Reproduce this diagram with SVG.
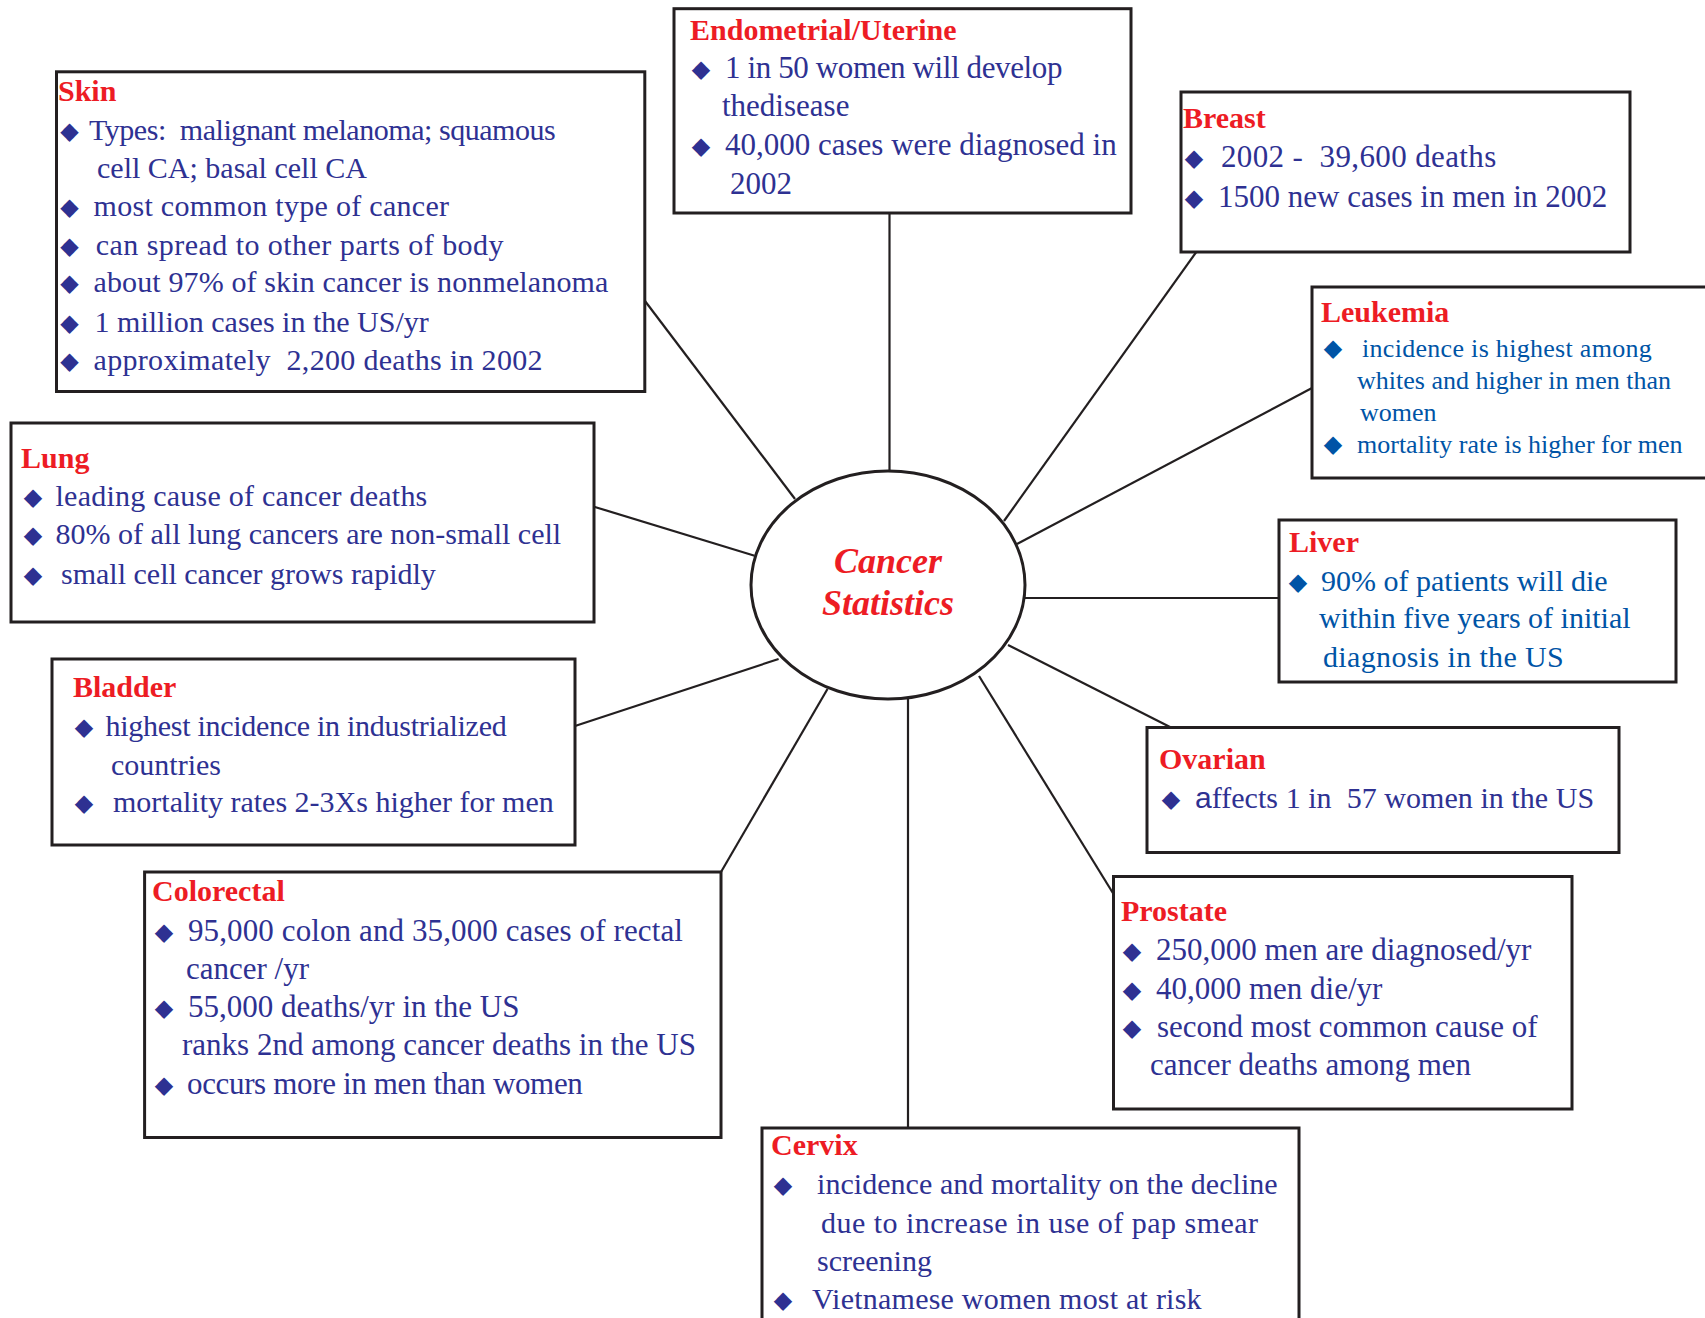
<svg xmlns="http://www.w3.org/2000/svg" width="1705" height="1318" viewBox="0 0 1705 1318">
<style>
.box{fill:#fff;stroke:#231f20;stroke-width:3}
.t{font-family:"Liberation Serif","Times New Roman",serif;font-weight:bold;fill:#ed1c24;font-size:30px}
.b{font-family:"Liberation Serif","Times New Roman",serif;fill:#2e3192;font-size:30px;white-space:pre}
.b31{font-size:31px}
.lb{fill:#0054a6}
.sm{font-size:26px}
.d{font-family:"DejaVu Sans",sans-serif;font-size:24px;text-anchor:middle}
.conn line{stroke:#231f20;stroke-width:2.2}
.hub{fill:#fff;stroke:#231f20;stroke-width:3}
.ct{font-family:"Liberation Serif","Times New Roman",serif;font-weight:bold;font-style:italic;fill:#ed1c24;font-size:36px;text-anchor:middle}
</style>
<rect width="1705" height="1318" fill="#fff"/>
<g id="connectors" class="conn">
<line x1="889.5" y1="213" x2="889.5" y2="470"/>
<line x1="645" y1="301" x2="795" y2="499"/>
<line x1="1197" y1="251" x2="1004" y2="521"/>
<line x1="1312" y1="388" x2="1017" y2="544"/>
<line x1="1023" y1="598" x2="1279" y2="598"/>
<line x1="1008" y1="645" x2="1171" y2="727.5"/>
<line x1="979" y1="676" x2="1113.5" y2="894"/>
<line x1="908" y1="699" x2="908" y2="1128"/>
<line x1="827.5" y1="689" x2="721" y2="872"/>
<line x1="778.6" y1="659" x2="575" y2="726"/>
<line x1="754.6" y1="555.7" x2="594" y2="506.7"/>
</g>
<g id="hub">
<ellipse class="hub" cx="888" cy="585" rx="137" ry="114"/>
<text class="ct" x="888" y="573">Cancer</text>
<text class="ct" x="888" y="615">Statistics</text>
</g>
<g id="skin">
<rect class="box" x="56.5" y="71.8" width="588.3" height="319.7"/>
<text class="t" x="58" y="101">Skin</text>
<g class="b">
<text class="d" x="69.5" y="139">◆</text><text xml:space="preserve" x="89" y="140" textLength="466.7">Types:  malignant melanoma; squamous</text>
<text x="97" y="178">cell CA; basal cell CA</text>
<text class="d" x="69.5" y="215">◆</text><text x="93.5" y="216" textLength="355.6">most common type of cancer</text>
<text class="d" x="69.5" y="254">◆</text><text x="95.7" y="255" textLength="407.8">can spread to other parts of body</text>
<text class="d" x="69.5" y="291">◆</text><text x="93.5" y="292" textLength="514.8">about 97% of skin cancer is nonmelanoma</text>
<text class="d" x="69.5" y="331">◆</text><text x="94.6" y="332">1 million cases in the US/yr</text>
<text class="d" x="69.5" y="369">◆</text><text xml:space="preserve" x="93.5" y="370" textLength="449">approximately  2,200 deaths in 2002</text>
</g>
</g>
<g id="endometrial">
<rect class="box" x="674" y="8.7" width="457" height="204.3"/>
<text class="t" x="690" y="40">Endometrial/Uterine</text>
<g class="b b31">
<text class="d" x="701" y="77">◆</text><text x="725" y="78" textLength="337.4">1 in 50 women will develop</text>
<text x="722" y="116">thedisease</text>
<text class="d" x="701" y="154">◆</text><text x="725" y="155">40,000 cases were diagnosed in</text>
<text x="730" y="194">2002</text>
</g>
</g>
<g id="breast">
<rect class="box" x="1181" y="92" width="449" height="160"/>
<text class="t" x="1183" y="128">Breast</text>
<g class="b b31">
<text class="d" x="1194" y="166">◆</text><text xml:space="preserve" x="1221" y="167" textLength="275.3">2002 -  39,600 deaths</text>
<text class="d" x="1194" y="206">◆</text><text x="1218" y="207">1500 new cases in men in 2002</text>
</g>
</g>
<g id="leukemia">
<rect class="box" x="1312" y="287" width="410" height="191"/>
<text class="t" x="1321" y="322">Leukemia</text>
<g class="b sm lb">
<text class="d" x="1333" y="356">◆</text><text x="1362" y="357" textLength="289.8">incidence is highest among</text>
<text x="1357" y="389">whites and higher in men than</text>
<text x="1360" y="421">women</text>
<text class="d" x="1333" y="452">◆</text><text x="1357" y="453">mortality rate is higher for men</text>
</g>
</g>
<g id="liver">
<rect class="box" x="1279" y="520" width="397" height="162"/>
<text class="t" x="1289" y="552">Liver</text>
<g class="b lb">
<text class="d" x="1298" y="590">◆</text><text x="1321" y="591">90% of patients will die</text>
<text x="1319" y="628">within five years of initial</text>
<text x="1323" y="667" textLength="240.7">diagnosis in the US</text>
</g>
</g>
<g id="ovarian">
<rect class="box" x="1147" y="727.5" width="472" height="125"/>
<text class="t" x="1159" y="769">Ovarian</text>
<g class="b">
<text class="d" x="1171" y="807">◆</text><text xml:space="preserve" x="1195" y="808" textLength="399.1"><tspan font-family="Liberation Sans, Arial, sans-serif">a</tspan>ffects 1 in  57 women in the US</text>
</g>
</g>
<g id="prostate">
<rect class="box" x="1113.5" y="876.5" width="458.5" height="232.5"/>
<text class="t" x="1121" y="921">Prostate</text>
<g class="b b31">
<text class="d" x="1132" y="959">◆</text><text x="1156" y="960">250,000 men are diagnosed/yr</text>
<text class="d" x="1132" y="998">◆</text><text x="1156" y="999">40,000 men die/yr</text>
<text class="d" x="1132" y="1036">◆</text><text x="1157" y="1037">second most common cause of</text>
<text x="1150" y="1075">cancer deaths among men</text>
</g>
</g>
<g id="cervix">
<rect class="box" x="762" y="1128" width="537" height="210"/>
<text class="t" x="771" y="1155">Cervix</text>
<g class="b">
<text class="d" x="783" y="1193">◆</text><text x="817" y="1194" textLength="460.7">incidence and mortality on the decline</text>
<text x="821" y="1233" textLength="437.1">due to increase in use of pap smear</text>
<text x="817" y="1271">screening</text>
<text class="d" x="783" y="1308">◆</text><text x="812" y="1309" textLength="389.6">Vietnamese women most at risk</text>
</g>
</g>
<g id="colorectal">
<rect class="box" x="144.6" y="872" width="576.4" height="265.5"/>
<text class="t" x="152" y="901">Colorectal</text>
<g class="b b31">
<text class="d" x="164" y="940">◆</text><text x="188" y="941" textLength="494.9">95,000 colon and 35,000 cases of rectal</text>
<text x="186" y="979">cancer /yr</text>
<text class="d" x="164" y="1016">◆</text><text x="188" y="1017">55,000 deaths/yr in the US</text>
<text x="182" y="1055">ranks 2nd among cancer deaths in the US</text>
<text class="d" x="164" y="1093">◆</text><text x="187" y="1094" textLength="395.8">occurs more in men than women</text>
</g>
</g>
<g id="bladder">
<rect class="box" x="52" y="659" width="523" height="186"/>
<text class="t" x="73" y="697">Bladder</text>
<g class="b">
<text class="d" x="84" y="735">◆</text><text x="105.5" y="736" textLength="401.2">highest incidence in industrialized</text>
<text x="111" y="775">countries</text>
<text class="d" x="84" y="811">◆</text><text x="113" y="812">mortality rates 2-3Xs higher for men</text>
</g>
</g>
<g id="lung">
<rect class="box" x="11" y="423" width="583" height="199"/>
<text class="t" x="21" y="468">Lung</text>
<g class="b">
<text class="d" x="33" y="505">◆</text><text x="55.5" y="506" textLength="371.8">leading cause of cancer deaths</text>
<text class="d" x="33" y="543">◆</text><text x="55.5" y="544">80% of all lung cancers are non-small cell</text>
<text class="d" x="33" y="583">◆</text><text x="61" y="584">small cell cancer grows rapidly</text>
</g>
</g>
</svg>
